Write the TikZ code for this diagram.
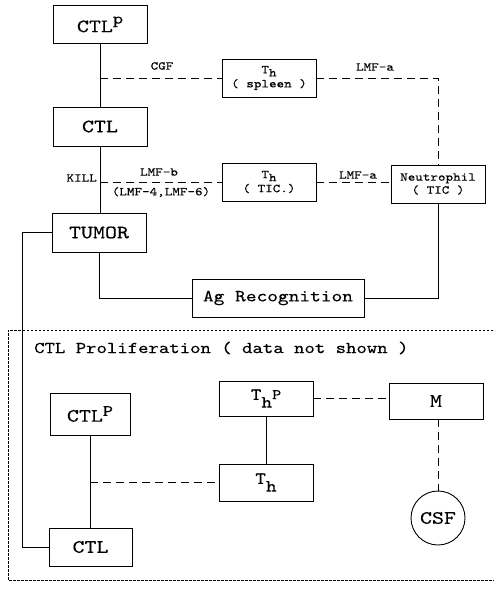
\documentclass[tikz,border=0pt]{standalone}
\usepackage{fontspec}
\newfontfamily\typew{lmmono10-regular.otf}[FakeStretch=1.2, FakeBold=0.2]

\newcommand\bigtxt{\typew\fontsize{19}{22}\selectfont}
\newcommand\midtxt{\typew\fontsize{17}{20}\selectfont}
\newcommand\smalltxt{\typew\fontsize{12}{13}\selectfont}
\newcommand\subtxt[2][0.45em]{\raisebox{-#1}{#2}}
\newcommand\suptxt[2][0.3em]{\raisebox{#1}{\scalebox{0.85}{#2}}}

\tikzset{
	cell/.style={draw, line width=0.9pt, minimum width=94pt, minimum height=38pt, inner sep=1pt, font=\bigtxt},
	tinycell/.style={cell, font=\smalltxt, align=center},
	link/.style={line width=0.9pt},
	signal/.style={line width=0.9pt, dash pattern=on 8pt off 5pt},
	lbl/.style={font=\smalltxt, inner sep=1pt},
	region/.style={line width=0.8pt, dash pattern=on 2.5pt off 1.5pt}
}

\begin{document}
\begin{tikzpicture}[x=1pt, y=-1pt]

	\useasboundingbox (0,0) rectangle (494,589);

	% killing pathway
	\node[cell] (ctlpTop) at (100, 24.5) {CTL\suptxt[0.45em]{p}};
	\node[cell, minimum height=39pt] (ctlTop) at (100, 126.5) {CTL};
	\node[cell, minimum height=39pt] (tumor) at (99, 232.5) {TUMOR};
	\node[tinycell] (thSpleen) at (269, 78) {T\subtxt[0.25em]{h}\\[1pt]( spleen )};
	\node[tinycell] (thTic) at (269, 182) {T\subtxt[0.25em]{h}\\[1pt]( TIC.)};
	\node[tinycell] (neutro) at (438, 184) {Neutrophil\\( TIC )};
	\node[cell, minimum width=172pt, font=\midtxt] (agRec) at (278, 298) {Ag Recognition};

	\draw[link] (ctlpTop) -- (ctlTop);
	\draw[link] (ctlTop.south) -- (ctlTop.south |- tumor.north);

	\draw[signal] (ctlpTop.south |- thSpleen.west) -- (thSpleen.west);
	\node[lbl] at (162, 66) {CGF};

	\draw[signal] (thSpleen.east) -| (neutro.north);
	\node[lbl] at (375, 67) {LMF-a};

	\node[lbl, anchor=east] at (98, 178) {KILL};
	\draw[signal] (ctlTop.south |- thTic.west) -- (thTic.west);
	\node[lbl] at (159, 172) {LMF-b};
	\node[lbl] at (161, 192) {(LMF-4,LMF-6)};

	\draw[signal] (thTic.east) -- (thTic.east -| neutro.west);
	\node[lbl] at (358, 175) {LMF-a};

	\draw[link] (tumor.south) |- (agRec.west);
	\draw[link] (agRec.east) -| (neutro.south);

	% proliferation pathway
	\draw[region] (497,330) -- (8,330) -- (8,580) -- (497,580);
	\node[anchor=west, inner sep=0pt, font=\typew\fontsize{16.5}{19}\selectfont] at (34, 348)
		{CTL Proliferation ( data not shown )};

	\node[cell, minimum width=80pt, minimum height=42pt] (ctlpLow) at (90, 414) {CTL\suptxt{P}};
	\node[cell, minimum width=83pt] (ctlLow) at (90.5, 547) {CTL};
	\node[cell, minimum height=35pt, font=\midtxt] (thp) at (266, 398.5) {T\subtxt{h}\suptxt[0.05em]{P}};
	\node[cell, minimum height=37pt, font=\midtxt] (th) at (266, 482.5) {T\subtxt{h}};
	\node[cell, minimum height=36pt] (mcell) at (436, 401) {M};
	\node[cell, circle, minimum width=54pt, minimum height=54pt] (csf) at (438, 518) {CSF};

	\draw[link] (tumor.west) -- ++(-29,0) |- (ctlLow.west);

	\draw[link] (ctlpLow.south) -- (ctlpLow.south |- ctlLow.north);
	\draw[signal] (ctlpLow.south |- th.west) -- (th.west);
	\draw[link] (thp) -- (th);
	\draw[signal] (thp.east) -- (thp.east -| mcell.west);
	\draw[signal] (csf.north |- mcell.south) -- (csf.north);

\end{tikzpicture}
\end{document}
